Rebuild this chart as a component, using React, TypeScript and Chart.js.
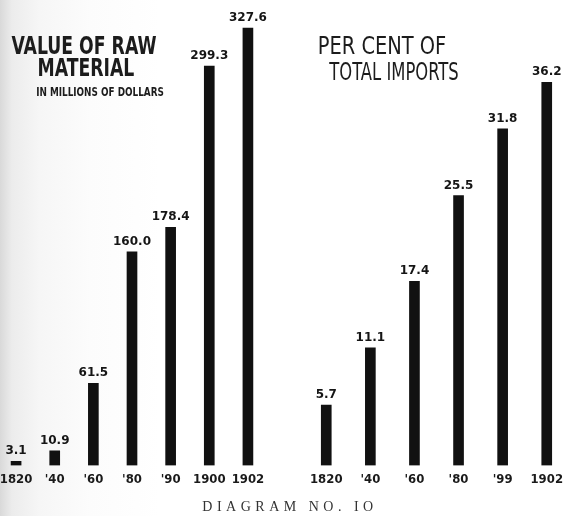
import React, { useEffect, useRef } from "react";
import { Chart, registerables } from "chart.js";

Chart.register(...registerables);

const leftCategories = ["1820", "'40", "'60", "'80", "'90", "1900", "1902"];
const leftValues = [3.1, 10.9, 61.5, 160.0, 178.4, 299.3, 327.6];

const rightCategories = ["1820", "'40", "'60", "'80", "'99", "1902"];
const rightValues = [5.7, 11.1, 17.4, 25.5, 31.8, 36.2];

const valueLabels = {
  id: "valueLabels",
  afterDatasetsDraw(chart: any) {
    const ctx = chart.ctx;
    const meta = chart.getDatasetMeta(0);
    const data = chart.data.datasets[0].data as number[];
    ctx.save();
    ctx.font = 'bold 12px "DejaVu Sans"';
    ctx.fillStyle = "#151515";
    ctx.textAlign = "center";
    ctx.textBaseline = "bottom";
    meta.data.forEach((el: any, i: number) => {
      ctx.fillText(data[i].toFixed(1), el.x, el.y - 4);
    });
    ctx.restore();
  },
};

type PanelProps = {
  labels: string[];
  values: number[];
  yMax: number;
  padTop: number;
  left: number;
  width: number;
};

function Panel({ labels, values, yMax, padTop, left, width }: PanelProps) {
  const ref = useRef<HTMLCanvasElement | null>(null);
  useEffect(() => {
    if (!ref.current) return;
    const chart = new Chart(ref.current, {
      type: "bar",
      data: {
        labels,
        datasets: [
          {
            data: values,
            backgroundColor: "#111111",
            borderWidth: 0,
            barThickness: 10,
          },
        ],
      },
      options: {
        responsive: false,
        animation: false,
        devicePixelRatio: 1,
        layout: { padding: { top: padTop, bottom: 23, left: 0, right: 0 } },
        plugins: {
          legend: { display: false },
          tooltip: { enabled: false },
          title: { display: false },
        },
        scales: {
          x: {
            offset: true,
            grid: { display: false, drawTicks: false },
            border: { display: false },
            ticks: {
              autoSkip: false,
              maxRotation: 0,
              padding: 6,
              color: "#1a1a1a",
              font: { family: '"DejaVu Sans Condensed", "DejaVu Sans"', size: 13, weight: "bold", lineHeight: 1.2 },
            },
          },
          y: {
            display: false,
            min: 0,
            max: yMax,
          },
        },
      },
      plugins: [valueLabels],
    });
    return () => chart.destroy();
  }, []);
  return (
    <canvas
      ref={ref}
      width={width}
      height={516}
      style={{ position: "absolute", left, top: 0, width, height: 516 }}
    />
  );
}

const titleFont = '"DejaVu Sans Condensed", "DejaVu Sans", sans-serif';

function Line({ text, cx, top, size, weight, sx }: { text: string; cx: number; top: number; size: number; weight?: string; sx: number }) {
  return (
    <div
      style={{
        position: "absolute",
        left: cx - 150,
        width: 300,
        top,
        textAlign: "center",
        fontFamily: titleFont,
        fontSize: size,
        lineHeight: 1,
        fontWeight: weight || "normal",
        color: "#1c1c1c",
        whiteSpace: "nowrap",
        transform: `scaleX(${sx})`,
        transformOrigin: "center",
      }}
    >
      {text}
    </div>
  );
}

export default function App() {
  return (
    <div
      style={{
        position: "fixed",
        left: 0,
        top: 0,
        width: 569,
        height: 516,
        overflow: "hidden",
        background:
          "linear-gradient(to right, #d9d9d9 0px, #ececec 12px, #f6f6f6 40px, #fcfcfc 90px, #ffffff 160px)",
      }}
    >
      <Panel labels={leftCategories} values={leftValues} yMax={330} padTop={25} left={-6} width={276} />
      <Panel labels={rightCategories} values={rightValues} yMax={40} padTop={42} left={304} width={265} />

      <Line text="VALUE OF RAW" cx={84} top={34} size={24} weight="bold" sx={0.8} />
      <Line text="MATERIAL" cx={86} top={56} size={24} weight="bold" sx={0.8} />
      <Line text="IN MILLIONS OF DOLLARS" cx={100} top={86} size={12} weight="bold" sx={0.82} />

      <Line text="PER CENT OF" cx={382} top={34} size={24} sx={0.9} />
      <Line text="TOTAL IMPORTS" cx={394} top={60} size={24} sx={0.76} />

      <div
        style={{
          position: "absolute",
          left: 140,
          width: 300,
          top: 500,
          textAlign: "center",
          fontFamily: '"Liberation Serif", serif',
          fontSize: 14,
          lineHeight: 1,
          letterSpacing: 4.5,
          color: "#333",
          whiteSpace: "nowrap",
        }}
      >
        DIAGRAM NO. IO
      </div>
    </div>
  );
}
